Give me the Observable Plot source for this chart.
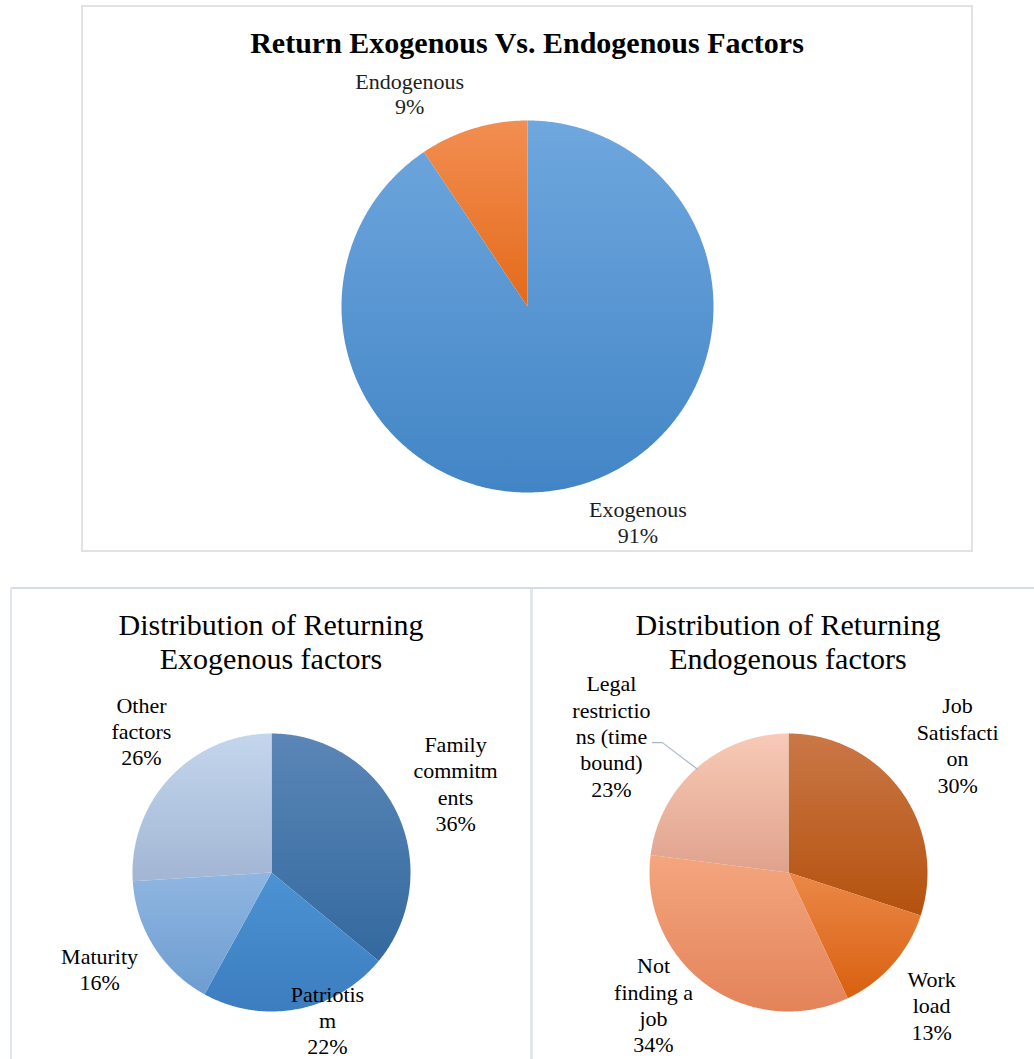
<!DOCTYPE html>
<html><head><meta charset="utf-8">
<script src="https://cdn.jsdelivr.net/npm/d3@7"></script>
<script src="https://cdn.jsdelivr.net/npm/@observablehq/plot@0.6"></script>
<style>
body{margin:0;background:#fff;}
#page{position:relative;width:1034px;height:1059px;overflow:hidden;font-family:"Liberation Serif","Times New Roman",serif;background:#fff;}
.line{position:absolute;box-sizing:border-box;}
.title{position:absolute;text-align:center;color:#000;white-space:pre;}
svg.pie{position:absolute;}
</style></head><body><div id="page"></div>
<script>
// ---------- DATA ----------
const overviewCategories = ["Exogenous", "Endogenous"];
const overviewLabels = ["Exogenous", "Endogenous"];
const overviewShares = [90.6, 9.4];

const exogenousCategories = ["Family commitments", "Patriotism", "Maturity", "Other factors"];
const exogenousLabels = ["Family\ncommitm\nents", "Patriotis\nm", "Maturity", "Other\nfactors"];
const exogenousShares = [36, 22, 16, 26];

const endogenousCategories = ["Job Satisfaction", "Work load", "Not finding a job", "Legal restrictions (time bound)"];
const endogenousLabels = ["Job\nSatisfacti\non", "Work\nload", "Not\nfinding a\njob", "Legal\nrestrictio\nns (time\nbound)"];
const endogenousShares = [30, 13, 34, 23];

// ---------- STYLE / LAYOUT ----------
const overviewColors = [["#6fa7de", "#4285c6"], ["#f28e52", "#e46a1a"]];
const exogenousColors = [["#5b86b7", "#33699f"], ["#4c93d4", "#3c7dbf"], ["#90b6e1", "#6c9dd1"], ["#c4d6ed", "#a2b6d4"]];
const endogenousColors = [["#ca7747", "#b4520e"], ["#eb8848", "#d9600f"], ["#f4a67e", "#e3835a"], ["#f8cab7", "#dfa28c"]];

const overviewLabelK = [1.302, 1.311], overviewLabelTurn = [-10.2, -12.0];
const exogenousLabelK = [1.472, 1.132, 1.417, 1.385], exogenousLabelTurn = [-0.7, -10.05, 3.2, 4.3];
const endogenousLabelK = [1.525, 1.403, 1.358, 1.61], endogenousLabelTurn = [-1.1, 1.4, 9.65, -10.9];
const endogenousLeader = [false, false, false, true];

const page = document.getElementById("page");
const pct = d3.format(".0%");

function addDiv(cls, style, text) {
  const d = document.createElement("div");
  d.className = cls;
  Object.assign(d.style, style);
  if (text != null) d.textContent = text;
  page.appendChild(d);
  return d;
}

function pieChart(cfg) {
  const {id, names, labels, values, colors, box, cx, cy, r, fontSize, lineHeight, textFill, labelK, labelTurn, leader} = cfg;
  const total = d3.sum(values);
  const arcs = d3.pie().sort(null).value(d => d)(values);
  const rows = [];
  arcs.forEach((a, i) => {
    const steps = Math.max(2, Math.ceil((a.endAngle - a.startAngle) / (Math.PI / 360)));
    rows.push({key: i, name: names[i], x: 0, y: 0});
    for (let s = 0; s <= steps; s++) {
      const t = a.startAngle + (a.endAngle - a.startAngle) * s / steps;
      rows.push({key: i, name: names[i], x: Math.sin(t), y: Math.cos(t)});
    }
  });
  const labelRows = arcs.map((a, i) => {
    const mid = (a.startAngle + a.endAngle) / 2 + labelTurn[i] * Math.PI / 180;
    return {
      key: i,
      x: labelK[i] * Math.sin(mid),
      y: labelK[i] * Math.cos(mid),
      text: labels[i] + "\n" + pct(values[i] / total)
    };
  });
  const leaderRows = [];
  if (leader) arcs.forEach((a, i) => {
    if (!leader[i]) return;
    const mid = (a.startAngle + a.endAngle) / 2;
    const L = labelRows[i];
    leaderRows.push({key: i, x: L.x + 41 / r, y: L.y - 7 / r});
    leaderRows.push({key: i, x: L.x + 51 / r, y: L.y - 7 / r});
    leaderRows.push({key: i, x: 0.99 * Math.sin(mid), y: 0.99 * Math.cos(mid)});
  });
  const svg = Plot.plot({
    width: box.width,
    height: box.height,
    margin: 0,
    style: {fontFamily: "'Liberation Serif', 'Times New Roman', serif", background: "transparent", overflow: "visible"},
    x: {domain: [(box.left - cx) / r, (box.left + box.width - cx) / r], axis: null},
    y: {domain: [(cy - (box.top + box.height)) / r, (cy - box.top) / r], axis: null},
    color: {type: "identity"},
    marks: [
      Plot.line(rows, {x: "x", y: "y", z: "key", fill: d => `url(#${id}-g${d.key})`, stroke: "none", curve: "linear-closed"}),
      Plot.line(leaderRows, {x: "x", y: "y", z: "key", stroke: "#a9b8c9", strokeWidth: 1.2}),
      Plot.text(labelRows, {x: "x", y: "y", text: "text", fontSize, lineHeight, lineAnchor: "middle", textAnchor: "middle", fill: textFill})
    ]
  });
  const ns = "http://www.w3.org/2000/svg";
  const defs = document.createElementNS(ns, "defs");
  colors.forEach((c, i) => {
    const g = document.createElementNS(ns, "linearGradient");
    g.setAttribute("id", `${id}-g${i}`);
    g.setAttribute("x1", "0"); g.setAttribute("y1", "0");
    g.setAttribute("x2", "0"); g.setAttribute("y2", "1");
    [[0, c[0]], [1, c[1]]].forEach(([o, col]) => {
      const s = document.createElementNS(ns, "stop");
      s.setAttribute("offset", o);
      s.setAttribute("stop-color", col);
      g.appendChild(s);
    });
    defs.appendChild(g);
  });
  svg.insertBefore(defs, svg.firstChild);
  svg.classList.add("pie");
  svg.style.left = box.left + "px";
  svg.style.top = box.top + "px";
  page.appendChild(svg);
}

// frames
addDiv("line", {left: "81px", top: "5px", width: "892px", height: "547px", border: "2px solid #dfe3e8"});
addDiv("line", {left: "10px", top: "587px", width: "1024px", height: "2px", background: "#d3dce6"});
addDiv("line", {left: "10px", top: "587px", width: "2px", height: "472px", background: "#e2e7ed"});
addDiv("line", {left: "530px", top: "589px", width: "3px", height: "470px", background: "#e2e7ed"});

// titles
addDiv("title", {left: "81px", width: "892px", top: "28px", font: "bold 30px/30px 'Liberation Serif', serif"}, "Return Exogenous Vs. Endogenous Factors");
addDiv("title", {left: "21px", width: "500px", top: "608px", font: "30px/34px 'Liberation Serif', serif"}, "Distribution of Returning\nExogenous factors");
addDiv("title", {left: "538px", width: "500px", top: "608px", font: "30px/34px 'Liberation Serif', serif"}, "Distribution of Returning\nEndogenous factors");

pieChart({
  id: "ov", names: overviewCategories, labels: overviewLabels, values: overviewShares, colors: overviewColors,
  box: {left: 83, top: 40, width: 888, height: 510}, cx: 527, cy: 306, r: 186,
  fontSize: 22, lineHeight: 1.15, textFill: "#1e1e1e", labelK: overviewLabelK, labelTurn: overviewLabelTurn
});
pieChart({
  id: "ex", names: exogenousCategories, labels: exogenousLabels, values: exogenousShares, colors: exogenousColors,
  box: {left: 12, top: 680, width: 518, height: 379}, cx: 271, cy: 872, r: 139,
  fontSize: 22, lineHeight: 1.2, textFill: "#000", labelK: exogenousLabelK, labelTurn: exogenousLabelTurn
});
pieChart({
  id: "en", names: endogenousCategories, labels: endogenousLabels, values: endogenousShares, colors: endogenousColors,
  box: {left: 534, top: 670, width: 500, height: 389}, cx: 788, cy: 872, r: 139,
  fontSize: 22, lineHeight: 1.2, textFill: "#000", labelK: endogenousLabelK, labelTurn: endogenousLabelTurn, leader: endogenousLeader
});
</script></body></html>
